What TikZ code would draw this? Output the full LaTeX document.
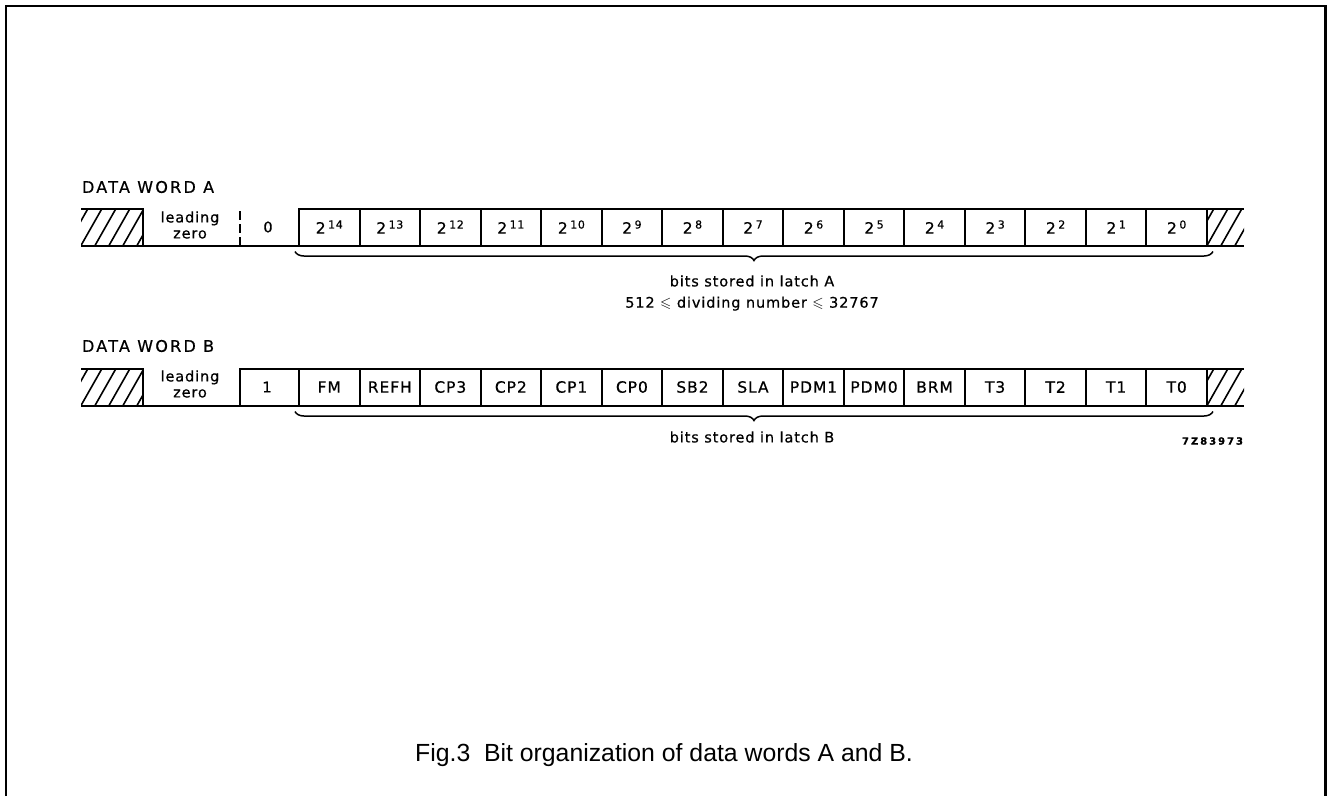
\documentclass[tikz,border=0pt]{standalone}
\usepackage{amssymb}
\usepackage{fontspec}
\newfontfamily\diagfont[LetterSpace=6,FakeBold=0.6]{DejaVu Sans}
\newfontfamily\capfont{Liberation Sans}
\usetikzlibrary{positioning, decorations.pathreplacing}
\newcommand\pw[1]{2\hspace{2.5pt}\raisebox{0.6ex}{\fontsize{11}{12}\selectfont #1}}
\tikzset{
  lbl/.style={inner sep=0pt, font=\fontsize{14.5}{16}\selectfont\diagfont},
  cell/.style={draw, line width=2pt, minimum width=60.53pt, minimum height=37pt,
    inner sep=0pt, outer sep=0pt, font=\fontsize{15.5}{17}\selectfont\diagfont},
  hatched/.style={minimum height=37pt, inner sep=0pt, outer sep=0pt,
    path picture={\foreach \k in {-2,...,6}
      \draw[line width=1.6pt] ([xshift=\k*14pt]path picture bounding box.south west) -- ++(21pt,37pt);}},
  latchbrace/.style={decorate, line width=1.5pt,
    decoration={brace, mirror, amplitude=9pt}},
}
\begin{document}
\begin{tikzpicture}[x=1pt, y=-1pt, line width=2pt]
        \useasboundingbox (0,0) rectangle (1327,796);
        % Frame
        \draw[line width=2.2pt] (6,796) -- (6,6) -- (1325.5,6) -- (1325.5,796);
        % Data word A
        \node[lbl, anchor=west, font=\fontsize{16}{18}\selectfont\diagfont\addfontfeature{LetterSpace=14}] (titleA) at (81,187) {DATA WORD A};
        \node[hatched, minimum width=62pt] (hatchA) at (112,227) {};
        \node[lbl, align=center] (leadA) at (190,225) {leading\\zero};
        \node[lbl] (zeroA) at (268,227) {0};
        \foreach \e [count=\i] in {14,13,...,0}
            \node[cell] (a\i) at ({299+60.53*(\i-0.5)},227) {\pw{\e}};
        \node[hatched, minimum width=37pt] (endA) at (1225.5,227) {};
        \draw (hatchA.north west) -- (hatchA.north east) -- (hatchA.south east);
        \draw (hatchA.south west) -- (endA.south east);
        \draw (endA.north west) -- (endA.north east);
        \coordinate (dashA) at (240,211);
        \draw[dash pattern=on 9pt off 4pt] (dashA) -- (dashA |- hatchA.south);
        \draw[latchbrace] ([xshift=-4pt,yshift=-6pt]a1.south west) -- ([xshift=6pt,yshift=-6pt]a15.south east);
        \node[lbl] (latchA) at (752,281) {bits stored in latch A};
        \node[lbl] (rangeA) [below=8pt of latchA] {512 $\leqslant$ dividing number $\leqslant$ 32767};
        % Data word B
        \node[lbl, anchor=west, font=\fontsize{16}{18}\selectfont\diagfont\addfontfeature{LetterSpace=14}] (titleB) at (81,346) {DATA WORD B};
        \node[hatched, minimum width=62pt] (hatchB) at (112,387) {};
        \node[lbl, align=center] (leadB) at (190,384) {leading\\zero};
        \node[lbl] (oneB) at (267,387) {1};
        \foreach \lbl [count=\i] in {FM,REFH,CP3,CP2,CP1,CP0,SB2,SLA,PDM1,PDM0,BRM,T3,T2,T1,T0}
            \node[cell] (b\i) at ({299+60.53*(\i-0.5)},387) {\lbl};
        \node[hatched, minimum width=37pt] (endB) at (1225.5,387) {};
        \draw (hatchB.north west) -- (hatchB.north east) -- (hatchB.south east);
        \draw (hatchB.south west) -- (endB.south east);
        \draw (endB.north west) -- (endB.north east);
        \coordinate (stepB) at (240,368.5);
        \draw (stepB |- hatchB.south) -- (stepB) -- (b1.north west);
        \draw[latchbrace] ([xshift=-4pt,yshift=-6pt]b1.south west) -- ([xshift=6pt,yshift=-6pt]b15.south east);
        \node[lbl] (latchB) at (752,437) {bits stored in latch B};
        \node[lbl, anchor=east, font=\bfseries\fontsize{10}{12}\selectfont\diagfont\addfontfeature{LetterSpace=20}] (code) at (1244,441) {7Z83973};
        % Caption
        \node[inner sep=0pt, font=\fontsize{24.8}{28}\selectfont\capfont] (caption) at (664,755) {Fig.3\ \ Bit organization of data words A and B.};
    \end{tikzpicture}
\end{document}
